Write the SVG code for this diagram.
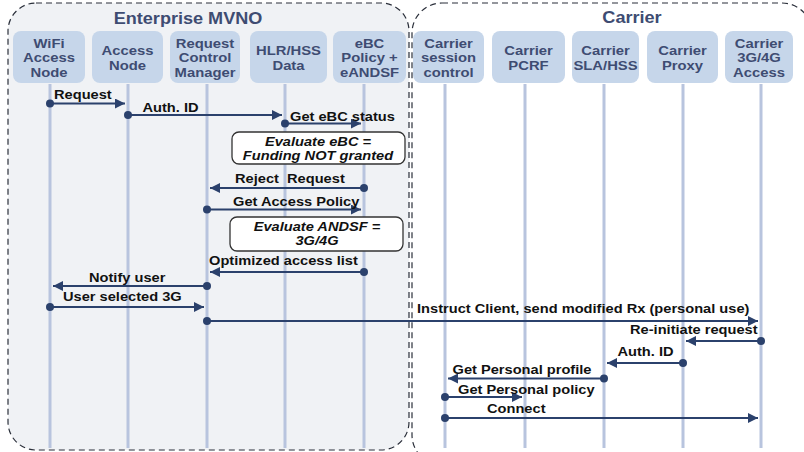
<svg xmlns="http://www.w3.org/2000/svg" width="804" height="452" viewBox="0 0 804 452">
  <style>
    .panel { stroke: #2a2f3a; stroke-width: 1.2; stroke-dasharray: 6 4; }
    .title { font-family: "Liberation Sans", Arial, sans-serif; font-weight: bold; font-size: 16px; fill: #3e4c72; text-anchor: middle; }
    .node rect { fill: #c6d6ea; }
    .node text { font-family: "Liberation Sans", Arial, sans-serif; font-weight: bold; font-size: 13px; fill: #3e4c72; text-anchor: middle; }
    .life { stroke: #b8c4de; stroke-width: 3; }
    .msg { stroke: #2b416c; stroke-width: 2; fill: none; marker-end: url(#arrow); }
    .dot { fill: #2b416c; }
    .lbl { font-family: "Liberation Sans", Arial, sans-serif; font-weight: bold; font-size: 12px; fill: #111; }
    .note rect { fill: #fff; stroke: #333; stroke-width: 1.3; }
    .note text { font-family: "Liberation Sans", Arial, sans-serif; font-weight: bold; font-style: italic; font-size: 12px; fill: #111; text-anchor: middle; }
  </style>
  <defs>
    <marker id="arrow" markerUnits="userSpaceOnUse" markerWidth="12" markerHeight="12" refX="10" refY="5" orient="auto">
      <path d="M0,0 L10,5 L0,10 Z" fill="#2b416c"/>
    </marker>
  </defs>

  <rect width="804" height="452" fill="#fff"/>

  <!-- domain panels -->
  <g id="enterprise-mvno">
    <rect class="panel" x="8" y="3" width="401" height="447" rx="28" fill="#f0f2f5"/>
    <text class="title" transform="translate(188,24) scale(1.13,1)">Enterprise MVNO</text>
  </g>
  <g id="carrier">
    <rect class="panel" x="412" y="3" width="400" height="462" rx="30" fill="#fff"/>
    <text class="title" transform="translate(632,23) scale(1.13,1)">Carrier</text>
  </g>

  <!-- lifelines -->
  <g id="lifelines">
    <line class="life" x1="50" y1="84" x2="50" y2="448"/>
    <line class="life" x1="128" y1="84" x2="128" y2="448"/>
    <line class="life" x1="207" y1="84" x2="207" y2="448"/>
    <line class="life" x1="285" y1="84" x2="285" y2="448"/>
    <line class="life" x1="364" y1="84" x2="364" y2="448"/>
    <line class="life" x1="445" y1="84" x2="445" y2="448"/>
    <line class="life" x1="525" y1="84" x2="525" y2="448"/>
    <line class="life" x1="604" y1="84" x2="604" y2="448"/>
    <line class="life" x1="683" y1="84" x2="683" y2="448"/>
    <line class="life" x1="761" y1="84" x2="761" y2="448"/>
  </g>

  <!-- participants -->
  <g id="wifi-access-node" class="node">
    <rect x="13" y="31" width="72" height="52" rx="8"/>
    <text transform="translate(49,47.5) scale(1.14,1)"><tspan x="0">WiFi</tspan><tspan x="0" dy="15">Access</tspan><tspan x="0" dy="15">Node</tspan></text>
  </g>
  <g id="access-node" class="node">
    <rect x="92" y="31" width="71" height="52" rx="8"/>
    <text transform="translate(127.5,55) scale(1.14,1)"><tspan x="0">Access</tspan><tspan x="0" dy="15">Node</tspan></text>
  </g>
  <g id="request-control-manager" class="node">
    <rect x="170" y="31" width="70" height="52" rx="8"/>
    <text transform="translate(205,47.5) scale(1.14,1)"><tspan x="0">Request</tspan><tspan x="0" dy="15">Control</tspan><tspan x="0" dy="15">Manager</tspan></text>
  </g>
  <g id="hlr-hss-data" class="node">
    <rect x="250" y="31" width="77" height="52" rx="8"/>
    <text transform="translate(288.5,55) scale(1.14,1)"><tspan x="0">HLR/HSS</tspan><tspan x="0" dy="15">Data</tspan></text>
  </g>
  <g id="ebc-policy-andsf" class="node">
    <rect x="333" y="31" width="73" height="52" rx="8"/>
    <text transform="translate(369.5,47.5) scale(1.14,1)"><tspan x="0">eBC</tspan><tspan x="0" dy="15">Policy +</tspan><tspan x="0" dy="15">eANDSF</tspan></text>
  </g>
  <g id="carrier-session-control" class="node">
    <rect x="413" y="31" width="71" height="52" rx="8"/>
    <text transform="translate(448.5,47.5) scale(1.14,1)"><tspan x="0">Carrier</tspan><tspan x="0" dy="15">session</tspan><tspan x="0" dy="15">control</tspan></text>
  </g>
  <g id="carrier-pcrf" class="node">
    <rect x="492" y="31" width="73" height="52" rx="8"/>
    <text transform="translate(528.5,55) scale(1.14,1)"><tspan x="0">Carrier</tspan><tspan x="0" dy="15">PCRF</tspan></text>
  </g>
  <g id="carrier-sla-hss" class="node">
    <rect x="572" y="31" width="67" height="52" rx="8"/>
    <text transform="translate(605.5,55) scale(1.14,1)"><tspan x="0">Carrier</tspan><tspan x="0" dy="15">SLA/HSS</tspan></text>
  </g>
  <g id="carrier-proxy" class="node">
    <rect x="647" y="31" width="71" height="52" rx="8"/>
    <text transform="translate(682.5,55) scale(1.14,1)"><tspan x="0">Carrier</tspan><tspan x="0" dy="15">Proxy</tspan></text>
  </g>
  <g id="carrier-3g4g-access" class="node">
    <rect x="725" y="31" width="68" height="52" rx="8"/>
    <text transform="translate(759,47.5) scale(1.14,1)"><tspan x="0">Carrier</tspan><tspan x="0" dy="15">3G/4G</tspan><tspan x="0" dy="15">Access</tspan></text>
  </g>

  <!-- evaluation notes -->
  <g id="note-evaluate-ebc" class="note">
    <rect x="232" y="132" width="173" height="32" rx="7"/>
    <text transform="translate(318,145.5) scale(1.22,1)"><tspan x="0">Evaluate eBC =</tspan><tspan x="0" dy="14.5">Funding NOT granted</tspan></text>
  </g>
  <g id="note-evaluate-andsf" class="note">
    <rect x="230" y="217" width="173" height="34" rx="7"/>
    <text transform="translate(317,230.5) scale(1.22,1)"><tspan x="0">Evaluate ANDSF =</tspan><tspan x="0" dy="14.5">3G/4G</tspan></text>
  </g>

  <!-- messages -->
  <g id="connectors">
    <line class="msg" x1="50" y1="103.5" x2="125" y2="103.5"/><circle class="dot" cx="50" cy="103.5" r="4"/>
    <line class="msg" x1="128" y1="115" x2="282" y2="115"/><circle class="dot" cx="128" cy="115" r="4"/>
    <line class="msg" x1="285" y1="123.5" x2="361" y2="123.5"/><circle class="dot" cx="285" cy="123.5" r="4"/>
    <line class="msg" x1="364" y1="188" x2="210" y2="188"/><circle class="dot" cx="364" cy="188" r="4"/>
    <line class="msg" x1="207" y1="209.5" x2="361" y2="209.5"/><circle class="dot" cx="207" cy="209.5" r="4"/>
    <line class="msg" x1="364" y1="272" x2="210" y2="272"/><circle class="dot" cx="364" cy="272" r="4"/>
    <line class="msg" x1="207" y1="286" x2="53" y2="286"/><circle class="dot" cx="207" cy="286" r="4"/>
    <line class="msg" x1="50" y1="307" x2="204" y2="307"/><circle class="dot" cx="50" cy="307" r="4"/>
    <line class="msg" x1="207" y1="321" x2="758" y2="321"/><circle class="dot" cx="207" cy="321" r="4"/>
    <line class="msg" x1="761" y1="341" x2="686" y2="341"/><circle class="dot" cx="761" cy="341" r="4"/>
    <line class="msg" x1="683" y1="363" x2="607" y2="363"/><circle class="dot" cx="683" cy="363" r="4"/>
    <line class="msg" x1="604" y1="378.5" x2="448" y2="378.5"/><circle class="dot" cx="604" cy="378.5" r="4"/>
    <line class="msg" x1="445" y1="397" x2="522" y2="397"/><circle class="dot" cx="445" cy="397" r="4"/>
    <line class="msg" x1="445" y1="418" x2="758" y2="418"/><circle class="dot" cx="445" cy="418" r="4"/>
  </g>

  <!-- message labels -->
  <g id="labels">
    <text class="lbl" transform="translate(54,98.5) scale(1.22,1)">Request</text>
    <text class="lbl" transform="translate(142.5,112) scale(1.22,1)">Auth. ID</text>
    <text class="lbl" transform="translate(290,120.5) scale(1.22,1)">Get eBC status</text>
    <text class="lbl" transform="translate(235,182.5) scale(1.22,1)" xml:space="preserve">Reject  Request</text>
    <text class="lbl" transform="translate(233,206) scale(1.22,1)">Get Access Policy</text>
    <text class="lbl" transform="translate(209,264.5) scale(1.22,1)">Optimized access list</text>
    <text class="lbl" transform="translate(89,281.5) scale(1.22,1)">Notify user</text>
    <text class="lbl" transform="translate(63,301) scale(1.22,1)">User selected 3G</text>
    <text class="lbl" transform="translate(417,313) scale(1.22,1)">Instruct Client, send modified Rx (personal use)</text>
    <text class="lbl" transform="translate(630,333.5) scale(1.22,1)">Re-initiate request</text>
    <text class="lbl" transform="translate(617.5,356) scale(1.22,1)">Auth. ID</text>
    <text class="lbl" transform="translate(452.5,373.5) scale(1.22,1)">Get Personal profile</text>
    <text class="lbl" transform="translate(458,393.5) scale(1.22,1)">Get Personal policy</text>
    <text class="lbl" transform="translate(487,413) scale(1.22,1)">Connect</text>
  </g>
</svg>
